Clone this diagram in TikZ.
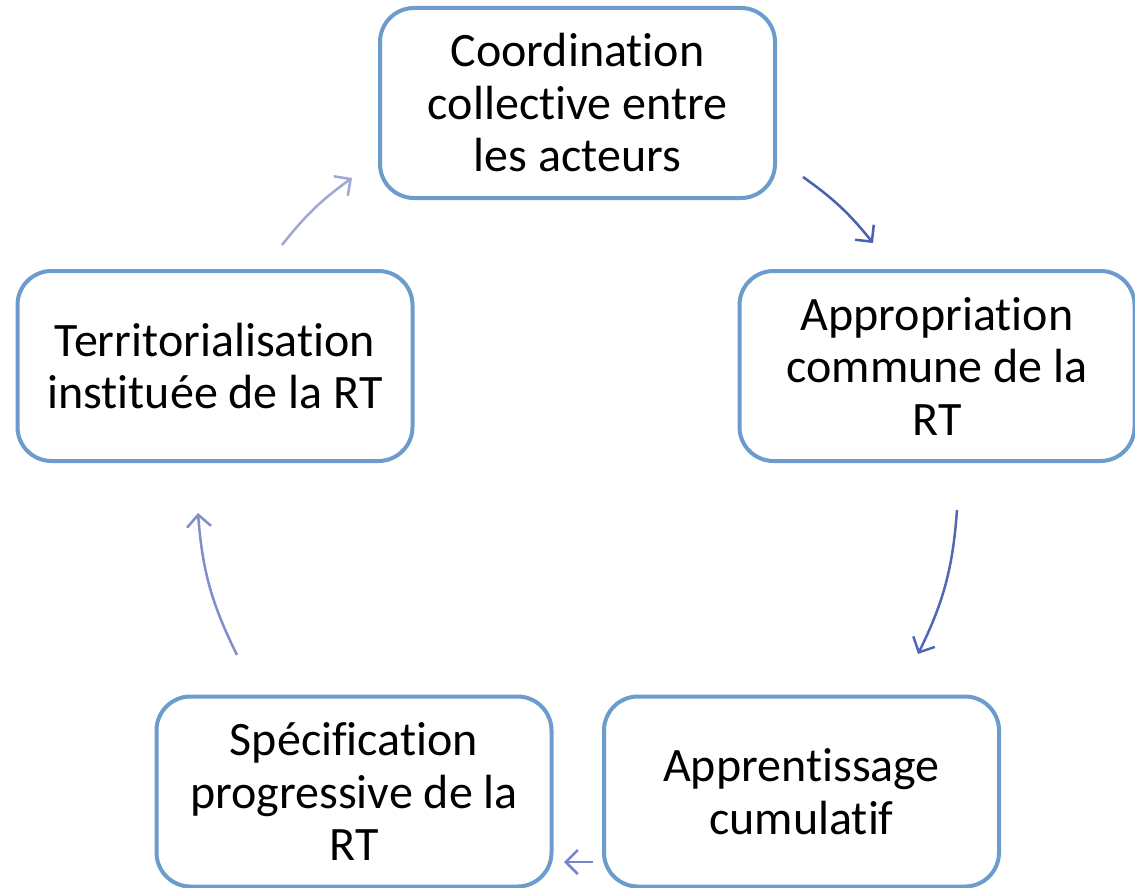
\documentclass[tikz,border=0pt]{standalone}
\usepackage{fontspec}
\setmainfont[Ligatures=NoCommon]{Carlito}
\usetikzlibrary{arrows.meta}
\definecolor{boxline}{RGB}{108,155,204}
\definecolor{arrA}{RGB}{74,96,176}
\definecolor{arrB}{RGB}{82,104,182}
\definecolor{arrC}{RGB}{120,132,200}
\definecolor{arrD}{RGB}{128,142,202}
\definecolor{arrE}{RGB}{158,168,213}

\begin{document}
\begin{tikzpicture}[x=1pt,y=-1pt,
    box/.style={draw=boxline,line width=4pt,rounded corners=34pt,fill=white,
        minimum width=395pt,minimum height=190pt,inner sep=0pt,align=center,
        font=\fontsize{48}{52.5}\selectfont},
    flow/.style={-{Straight Barb[length=12pt,width=24pt]},line width=2.5pt}]

    \useasboundingbox (0,0) rectangle (1135,888);

    % the five steps of the cycle
    \node[box] (coord) at (577.5,103) {Coordination\\collective entre\\les acteurs};
    \node[box] (approp) at (937,366) {Appropriation\\commune de la\\RT};
    \node[box] (apprent) at (801.5,791.5) {Apprentissage\\cumulatif};
    \node[box] (specif) at (354,791.5) {Spécification\\progressive de la\\RT};
    \node[box] (territ) at (215,366) {Territorialisation\\instituée de la RT};

    % free ends of the arrows
    \coordinate (a1) at (803,177);  \coordinate (b1) at (873,243);
    \coordinate (a2) at (957,510);  \coordinate (b2) at (918,654);
    \coordinate (a3) at (593,862);  \coordinate (b3) at (564,862);
    \coordinate (a4) at (237,655);  \coordinate (b4) at (198,513);
    \coordinate (a5) at (282,245);  \coordinate (b5) at (352,178);

    \path[flow]
    (a1) edge [draw=arrA, bend left=8] (b1)
    (a2) edge [draw=arrB, bend left=11] (b2)
    (a3) edge [draw=arrC] (b3)
    (a4) edge [draw=arrD, bend left=11] (b4)
    (a5) edge [draw=arrE, bend left=8] (b5)
    ;
\end{tikzpicture}
\end{document}
